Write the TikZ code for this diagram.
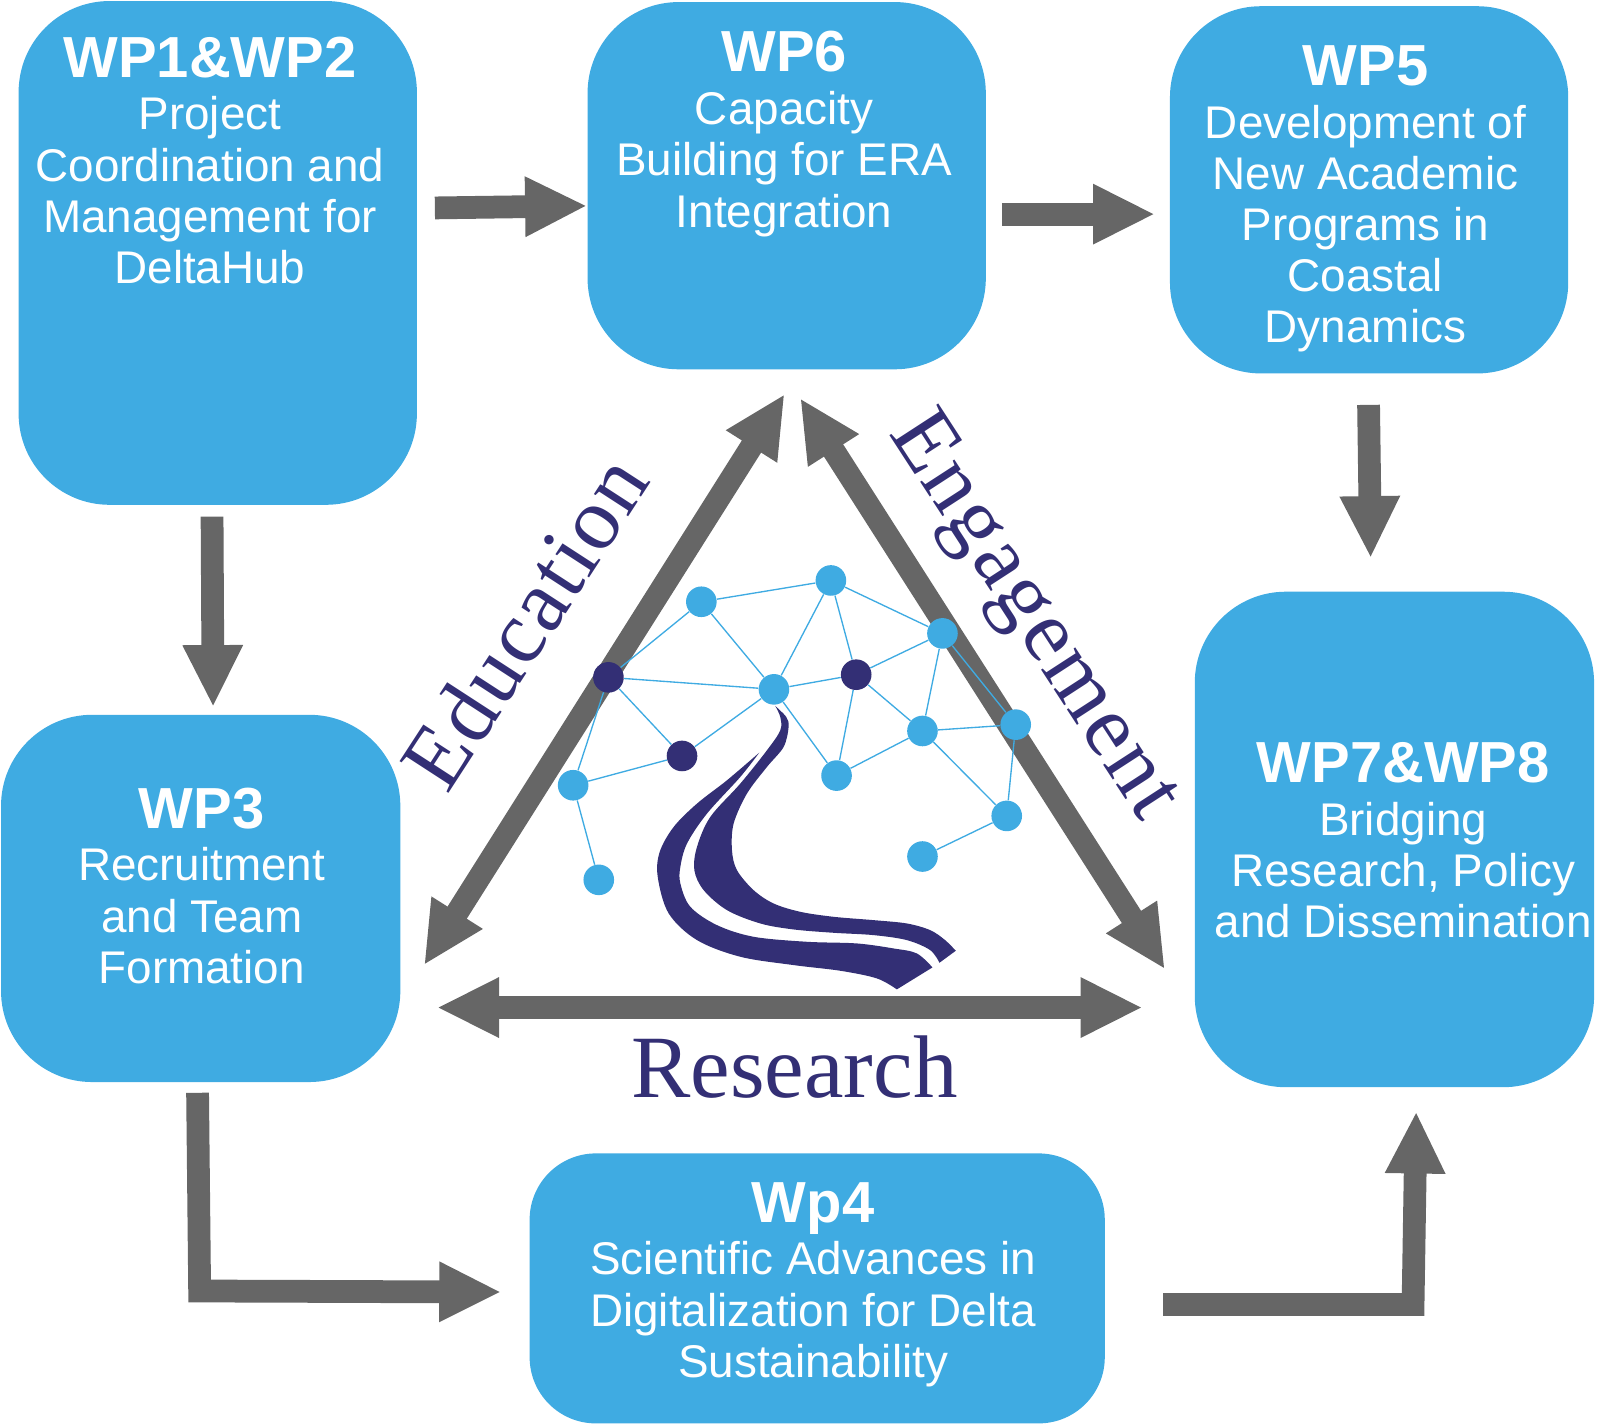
\documentclass[tikz,border=0pt]{standalone}
\usepackage{fontspec}
\setsansfont{Liberation Sans}
\setmainfont{Liberation Serif}
\usetikzlibrary{arrows.meta,calc}
\definecolor{boxblue}{HTML}{3FABE2}
\definecolor{flowgray}{HTML}{666666}
\definecolor{navy}{HTML}{332F75}
\tikzset{
  wpbox/.style={fill=boxblue,draw=none,rounded corners=44pt,inner sep=0pt},
  wptext/.style={anchor=north,align=center,inner sep=0pt,text=white,font=\sffamily\fontsize{22.15}{24.75}\selectfont},
  flow/.style={draw=flowgray,line width=11pt,miter limit=10,-{Triangle[length=30pt,width=27pt,flowgray]}},
  twoway/.style={draw=flowgray,line width=11pt,{Triangle[length=30pt,width=27pt,flowgray]}-{Triangle[length=30pt,width=27pt,flowgray]}},
  theme/.style={inner sep=0pt,text=navy,font=\fontsize{43}{43}\selectfont},
  lightdot/.style={circle,fill=boxblue,draw=none,minimum size=14.8pt,inner sep=0pt},
  darkdot/.style={circle,fill=navy,draw=none,minimum size=14.8pt,inner sep=0pt},
  link/.style={draw=boxblue,line width=0.65pt},
}
\newcommand{\wptitle}[1]{{\fontsize{28}{24.75}\selectfont\bfseries #1}\\[0.75pt]}
\begin{document}
\begin{tikzpicture}[x=0.5pt,y=-0.5pt]
\useasboundingbox (0,0) rectangle (1568,1376.6);
% boxes
\node[wpbox,minimum width=192.5pt,minimum height=243.5pt] (wp1) at (210.5,244.5) {};
\node[wpbox,minimum width=192.5pt,minimum height=177.5pt] (wp6) at (760.5,179.5) {};
\node[wpbox,minimum width=192.5pt,minimum height=177.5pt] (wp5) at (1323.5,183.5) {};
\node[wpbox,minimum width=193pt,minimum height=177.5pt] (wp3) at (194,868.5) {};
\node[wpbox,minimum width=193pt,minimum height=239.5pt] (wp78) at (1348,811.5) {};
\node[wpbox,minimum width=278pt,minimum height=130.5pt,rounded corners=32pt] (wp4) at (790,1245.5) {};
% box texts
\node[wptext] (wp1t) at (203,35) {\wptitle{WP1\&WP2}Project\\Coordination and\\Management for\\DeltaHub};
\node[wptext] (wp6t) at (758,30) {\wptitle{WP6}Capacity\\Building for ERA\\Integration};
\node[wptext] (wp5t) at (1320,43.5) {\wptitle{WP5}Development of\\New Academic\\Programs in\\Coastal\\Dynamics};
\node[wptext] (wp3t) at (195,761) {\wptitle{WP3}Recruitment\\and Team\\Formation};
\node[wptext] (wp78t) at (1356.5,717) {\wptitle{WP7\&WP8}Bridging\\Research, Policy\\and Dissemination};
\node[wptext] (wp4t) at (786,1142.5) {\wptitle{Wp4}Scientific Advances in\\Digitalization for Delta\\Sustainability};
% flow arrows
\draw[flow] ([shift={(17,-43.5)}]wp1.east) -- ([shift={(0,19.5)}]wp6.west);
\draw[flow] ([shift={(15,27.5)}]wp6.east) -- ([shift={(-14,23.5)}]wp5.west);
\draw[flow] ([shift={(-0.5,30)}]wp5.south) -- ([shift={(-23,-32)}]wp78.north);
\draw[flow] ([shift={(-5.5,11)}]wp1.south) -- ([shift={(12,-7)}]wp3.north);
\coordinate (bendA) at (193,1248);
\coordinate (bendB) at (1366,1261);
\draw[flow] ([shift={(-3,10)}]wp3.south) -- (bendA) -- ([shift={(-27,3.5)}]wp4.west);
\draw[flow] ([shift={(56,15.5)}]wp4.east) -- (bendB) -- ([shift={(21,23)}]wp78.south);
% theme arrows
\draw[twoway] ([shift={(-2,23.5)}]wp6.south) -- ([shift={(22.5,64.5)}]wp3.east);
\draw[twoway] ([shift={(13,27.5)}]wp6.south) -- ([shift={(-28.5,125.5)}]wp78.west);
\draw[twoway] ([shift={(35,105.5)}]wp3.east) -- ([shift={(-50,162.5)}]wp78.west);
% theme labels
\node[theme,rotate=57] (education) at (507,601) {\addfontfeature{LetterSpace=2}Education};
\node[theme,rotate=-57] (engagement) at (997,597) {\addfontfeature{LetterSpace=2.5}Engagement};
\node[theme] (research) at (768,1032) {Research};
% logo
\begin{scope}[shift={(522.5,541.8)},x=0.16096pt,y=-0.16096pt]
\node[lightdot] (n1) at (483,124) {};
\node[lightdot] (n2) at (872,60) {};
\node[lightdot] (n3) at (1207,219) {};
\node[darkdot]  (n4) at (204,351) {};
\node[lightdot] (n5) at (701,387) {};
\node[darkdot]  (n6) at (948,343) {};
\node[lightdot] (n7) at (1147,512) {};
\node[lightdot] (n8) at (1427,493) {};
\node[darkdot]  (n9) at (425,587) {};
\node[lightdot] (n10) at (98,675) {};
\node[lightdot] (n11) at (889,646) {};
\node[lightdot] (n12) at (1400,767) {};
\node[lightdot] (n13) at (175,959) {};
\node[lightdot] (n14) at (1147,889) {};
\foreach \a/\b in {n1/n2,n1/n4,n1/n5,n2/n5,n2/n6,n2/n3,n3/n6,n3/n7,n3/n8,n4/n5,n4/n9,n4/n10,n5/n6,n5/n9,n5/n11,n6/n7,n6/n11,n7/n8,n7/n11,n7/n12,n8/n12,n9/n10,n10/n13,n12/n14}
  \draw[link] (\a) -- (\b);
\fill[navy] plot[smooth,tension=0.55] coordinates {(657,577) (560,660) (470,730) (400,800) (358,875) (352,950) (385,1060) (470,1140) (600,1190) (760,1215) (900,1232) (1010,1255) (1070,1288)}
  -- (1177,1222)
  -- plot[smooth,tension=0.55] coordinates {(1177,1222) (1130,1180) (1060,1165) (950,1150) (800,1145) (640,1130) (530,1095) (450,1040) (420,970) (420,920) (440,850) (500,760) (600,650) (657,577)} -- cycle;
\fill[navy] plot[smooth,tension=0.55] coordinates {(705,437) (738,470) (745,500) (730,560) (680,620) (620,700) (580,790) (575,870) (590,930) (640,990) (700,1030) (780,1055) (880,1070) (1000,1080) (1100,1090) (1170,1110) (1215,1140) (1247,1172)}
  -- (1198,1208)
  -- plot[smooth,tension=0.55] coordinates {(1198,1208) (1170,1170) (1100,1140) (1000,1125) (880,1118) (760,1108) (660,1090) (560,1050) (490,990) (462,930) (470,860) (510,770) (600,670) (680,570) (720,510) (720,470) (705,437)} -- cycle;
\end{scope}
\end{tikzpicture}
\end{document}
